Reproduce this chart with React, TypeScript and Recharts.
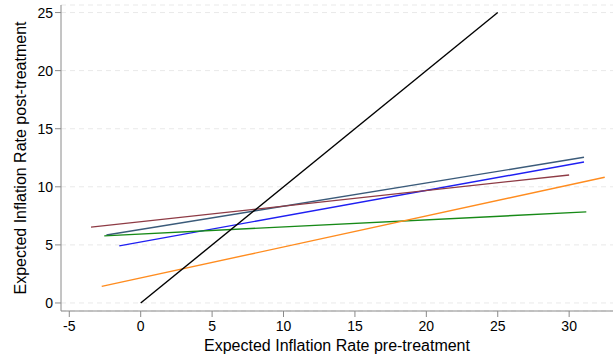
import { LineChart, Line, XAxis, YAxis, CartesianGrid } from 'recharts';

// fitted lines, one entry per series (start and end points)
const seriesKeys = ['slate', 'blue', 'maroon', 'green', 'orange', 'diagonal'];
const seriesColors = ['#3b5b7a', '#1f1ff2', '#8e3b45', '#178a17', '#ff8c1f', '#000000'];
const startX = [-2.4, -1.5, -3.48, -2.55, -2.73, 0];
const startY = [5.85, 4.92, 6.53, 5.78, 1.43, 0];
const endX = [31.04, 31.04, 30.0, 31.2, 32.49, 25];
const endY = [12.54, 12.14, 11.02, 7.84, 10.82, 25];

const xTicks = [-5, 0, 5, 10, 15, 20, 25, 30];
const yTicks = [0, 5, 10, 15, 20, 25];

const FONT = '"Liberation Sans", Arial, Helvetica, sans-serif';
const AXIS_GRAY = '#8a8a8a';

const series = seriesKeys.map((key, i) => ({
  key,
  color: seriesColors[i],
  points: [
    { x: startX[i], y: startY[i] },
    { x: endX[i], y: endY[i] },
  ],
}));

function YTitle({ viewBox }: any) {
  const cx = viewBox.x + 20;
  const cy = viewBox.y + viewBox.height / 2;
  return (
    <text
      x={cx}
      y={cy}
      transform={`rotate(-90, ${cx}, ${cy})`}
      textAnchor="middle"
      dominantBaseline="central"
      fontFamily={FONT}
      fontSize={16}
      fill="#000"
    >
      Expected Inflation Rate post-treatment
    </text>
  );
}

export default function App() {
  return (
    <div style={{ position: 'absolute', left: 0, top: 0, background: '#fff' }}>
      <LineChart
        width={616}
        height={358}
        margin={{ top: 5, right: 3, left: 0, bottom: 0 }}
      >
        <CartesianGrid
          horizontal
          vertical={false}
          stroke="#e9e9e9"
          strokeDasharray="5 4"
        />
        <XAxis
          dataKey="x"
          type="number"
          domain={[-5.58, 33.07]}
          ticks={xTicks}
          allowDataOverflow
          height={47}
          stroke={AXIS_GRAY}
          tickSize={6}
          tickMargin={4}
          tick={{ fill: '#000', fontSize: 14, fontFamily: FONT }}
          label={{
            value: 'Expected Inflation Rate pre-treatment',
            position: 'insideBottom',
            offset: 7,
            fill: '#000',
            fontSize: 16,
            fontFamily: FONT,
          }}
        />
        <YAxis
          dataKey="y"
          type="number"
          domain={[-0.69, 25.65]}
          ticks={yTicks}
          allowDataOverflow
          width={61}
          stroke={AXIS_GRAY}
          tickSize={6}
          tickMargin={2}
          tick={{ fill: '#000', fontSize: 14, fontFamily: FONT }}
          label={<YTitle />}
        />
        {series.map((s) => (
          <Line
            key={s.key}
            data={s.points}
            dataKey="y"
            type="linear"
            stroke={s.color}
            strokeWidth={1.4}
            dot={false}
            activeDot={false}
            isAnimationActive={false}
          />
        ))}
      </LineChart>
    </div>
  );
}
